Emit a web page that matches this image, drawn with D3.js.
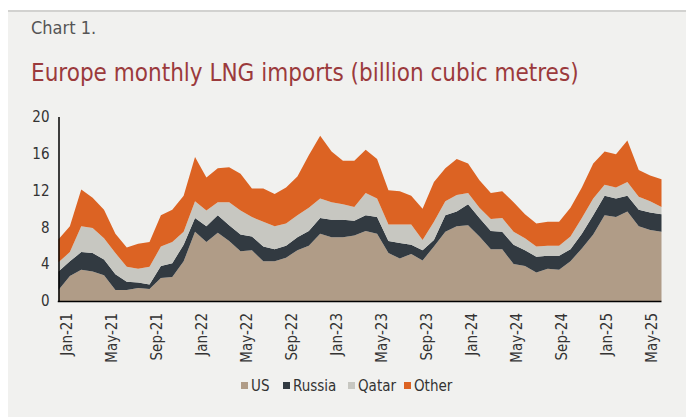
<!DOCTYPE html>
<html><head><meta charset="utf-8">
<script src="https://cdn.jsdelivr.net/npm/d3@7"></script>
<style>
html,body{margin:0;padding:0;background:#fff;}
svg{display:block;}
text{font-family:"DejaVu Sans Condensed","Liberation Sans Narrow","Roboto",sans-serif;font-stretch:condensed;}
</style></head>
<body>
<svg id="c" width="686" height="417"></svg>
<script>
const months = ["Jan-21","Feb-21","Mar-21","Apr-21","May-21","Jun-21","Jul-21","Aug-21","Sep-21","Oct-21","Nov-21","Dec-21",
"Jan-22","Feb-22","Mar-22","Apr-22","May-22","Jun-22","Jul-22","Aug-22","Sep-22","Oct-22","Nov-22","Dec-22",
"Jan-23","Feb-23","Mar-23","Apr-23","May-23","Jun-23","Jul-23","Aug-23","Sep-23","Oct-23","Nov-23","Dec-23",
"Jan-24","Feb-24","Mar-24","Apr-24","May-24","Jun-24","Jul-24","Aug-24","Sep-24","Oct-24","Nov-24","Dec-24",
"Jan-25","Feb-25","Mar-25","Apr-25","May-25","Jun-25"];
const us     = [1.2,2.7,3.4,3.2,2.8,1.2,1.2,1.4,1.3,2.5,2.6,4.3, 7.5,6.4,7.4,6.5,5.4,5.5,4.3,4.3,4.7,5.5,6.0,7.3, 6.9,6.9,7.1,7.6,7.3,5.2,4.6,5.1,4.4,5.9,7.5,8.1, 8.2,7.0,5.6,5.6,4.0,3.8,3.1,3.5,3.4,4.3,5.7,7.2, 9.3,9.1,9.7,8.1,7.7,7.5];
const russia = [2.0,1.6,1.9,2.0,1.7,1.7,0.9,0.6,0.5,1.3,1.5,1.8, 1.5,1.7,1.9,1.7,1.8,1.5,1.6,1.3,1.3,1.4,1.6,1.7, 1.9,1.9,1.6,1.7,1.8,1.3,1.7,1.0,1.1,0.7,1.8,1.6, 2.3,2.0,2.0,1.9,2.1,1.7,1.7,1.4,1.5,1.3,1.6,2.1, 2.1,2.0,1.7,1.8,1.9,1.9];
const qatar  = [1.0,1.0,2.8,2.7,2.3,2.3,1.6,1.5,1.9,2.1,2.3,1.4, 1.8,1.7,1.4,2.5,2.6,2.1,2.7,2.5,2.4,2.4,2.5,2.1, 1.9,1.7,1.5,2.4,2.0,1.8,2.0,2.2,1.1,2.0,1.5,1.8, 1.2,1.1,1.3,1.5,1.4,1.3,1.1,1.1,1.1,1.4,1.7,1.8, 1.2,1.2,1.5,1.4,1.2,0.8];
const other  = [2.5,2.8,4.0,3.3,3.1,2.1,2.1,2.7,2.7,3.4,3.5,3.9, 4.8,3.6,3.7,3.8,4.0,3.1,3.6,3.5,3.9,4.2,5.7,6.8, 5.5,4.7,5.0,4.7,4.3,3.7,3.6,3.1,3.4,4.3,3.6,3.9, 3.2,3.0,2.8,2.9,3.2,2.6,2.5,2.6,2.6,3.1,3.3,3.8, 3.6,3.6,4.5,2.9,2.8,3.0];
const seriesNames = ["US","Russia","Qatar","Other"];
const seriesColors = ["#b09c87","#323a41","#c7c7c1","#dc6323"];
const xTickLabels = ["Jan-21","May-21","Sep-21","Jan-22","May-22","Sep-22","Jan-23","May-23","Sep-23","Jan-24","May-24","Sep-24","Jan-25","May-25"];
const yTicks = [0,4,8,12,16,20];

const svg = d3.select("#c");
// panel
svg.append("rect").attr("x",8).attr("y",10).attr("width",678).attr("height",407).attr("fill","#f1f1ef");
svg.append("rect").attr("x",8).attr("y",10).attr("width",678).attr("height",2).attr("fill","#d2d2d0");

svg.append("text").attr("x",31).attr("y",34).attr("font-size",18).attr("font-weight",300).attr("fill","#555")
  .text("Chart 1.");
svg.append("text").attr("x",31).attr("y",81).attr("font-size",24).attr("fill","#9b3a3c")
  .text("Europe monthly LNG imports (billion cubic metres)");

const rows = months.map((m,i)=>({m, US:us[i], Russia:russia[i], Qatar:qatar[i], Other:other[i]}));
const stack = d3.stack().keys(seriesNames)(rows);

const x = d3.scalePoint().domain(months).range([58.5,661.5]);
const xl = d3.scalePoint().domain(months.slice(0,53)).range([66.7,651.7]);
const y = d3.scaleLinear().domain([0,20]).range([301,116.5]);

const area = d3.area().x(d=>x(d.data.m)).y0(d=>y(d[0])).y1(d=>y(d[1]));
svg.append("g").selectAll("path").data(stack).join("path")
  .attr("d",area).attr("fill",(d,i)=>seriesColors[i]);

// y axis
const ya = svg.append("g").attr("transform","translate(58.5,0)")
  .call(d3.axisLeft(y).tickValues(yTicks).tickSize(0).tickPadding(9));
ya.select(".domain").attr("stroke","#000").attr("stroke-width",1.5);
ya.selectAll("text").attr("font-size",15).attr("fill","#333").style("font-family",null);

// x axis
const xa = svg.append("g").attr("transform","translate(0,301)")
  .call(d3.axisBottom(xl).tickValues(xTickLabels).tickSize(0).tickPadding(0));
xa.select(".domain").remove();
svg.append("line").attr("x1",x.range()[0]-0.75).attr("x2",x.range()[1]).attr("y1",301.5).attr("y2",301.5)
  .attr("stroke","#000").attr("stroke-width",1.5);
xa.selectAll("text").attr("font-size",15).attr("fill","#333").style("font-family",null)
  .attr("transform","rotate(-90)").attr("text-anchor","end")
  .attr("x",-12).attr("y",0).attr("dy","0.35em");

// legend
const legendX = [241,283,348,404];
const lg = svg.append("g");
seriesNames.forEach((n,i)=>{
  lg.append("rect").attr("x",legendX[i]).attr("y",382).attr("width",7).attr("height",7).attr("fill",seriesColors[i]);
  lg.append("text").attr("x",legendX[i]+10).attr("y",391).attr("font-size",15).attr("fill","#333").text(n);
});
</script>
</body></html>
